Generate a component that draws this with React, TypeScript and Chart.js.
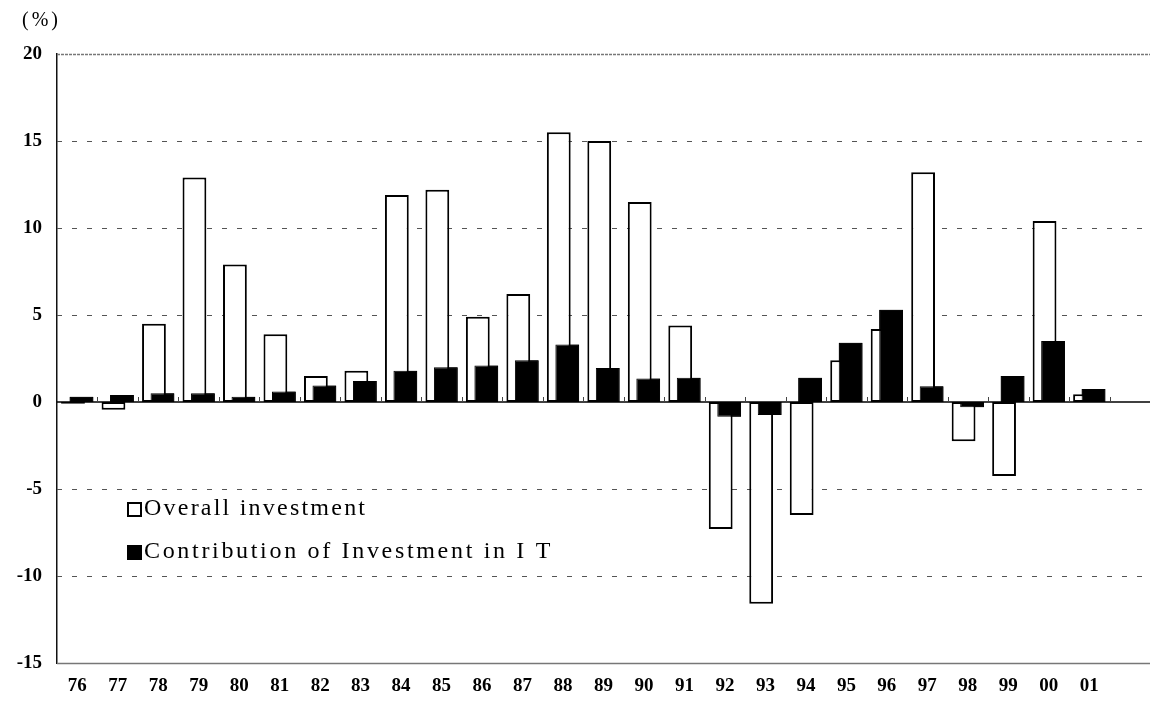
import React, { useEffect, useRef } from 'react';
import { Chart, registerables } from 'chart.js';

Chart.register(...registerables);

// ---- data ----
const YEARS = ['76', '77', '78', '79', '80', '81', '82', '83', '84', '85', '86', '87', '88', '89', '90', '91', '92', '93', '94', '95', '96', '97', '98', '99', '00', '01', ''];
const OVERALL_INVESTMENT = [-0.1, -0.45, 4.5, 12.9, 7.9, 3.9, 1.5, 1.8, 11.9, 12.2, 4.9, 6.2, 15.5, 15.0, 11.5, 4.4, -7.3, -11.6, -6.5, 2.4, 4.2, 13.2, -2.25, -4.25, 10.4, 0.45];
const IT_CONTRIBUTION = [0.3, 0.4, 0.5, 0.5, 0.3, 0.6, 0.95, 1.2, 1.8, 2.0, 2.1, 2.4, 3.3, 1.95, 1.35, 1.4, -0.85, -0.75, 1.4, 3.4, 5.3, 0.9, -0.3, 1.5, 3.5, 0.75];
const SERIES_NAMES = ['Overall investment', 'Contribution of Investment in I T'];
const Y_MIN = -15;
const Y_MAX = 20;
const Y_STEP = 5;
const UNIT_LABEL = '(%)';

const FONT_FAMILY = '"Liberation Serif", "Times New Roman", serif';

const customPlugin = {
  id: 'customDecor',
  beforeDatasetsDraw(chart: any) {
    const { ctx, chartArea } = chart;
    const ys = chart.scales.y;
    ctx.save();
    ys.ticks.forEach((t: any) => {
      if (t.value === 0) return;
      const py = Math.round(ys.getPixelForValue(t.value)) + 0.5;
      ctx.beginPath();
      if (t.value === ys.max) {
        ctx.setLineDash([3, 1]);
        ctx.strokeStyle = '#777';
        ctx.lineWidth = 1.5;
      } else if (t.value === ys.min) {
        ctx.setLineDash([]);
        ctx.strokeStyle = '#777';
        ctx.lineWidth = 1.5;
      } else {
        ctx.setLineDash([5, 10]);
        ctx.strokeStyle = '#555';
        ctx.lineWidth = 1;
      }
      ctx.moveTo(chartArea.left, py);
      ctx.lineTo(chartArea.right, py);
      ctx.stroke();
    });
    ctx.restore();
  },
  afterDatasetsDraw(chart: any) {
    const { ctx, chartArea } = chart;
    // draw the IT contribution bars over the overall bars
    const meta = chart.getDatasetMeta(1);
    ctx.save();
    meta.controller.draw();
    ctx.restore();

    const ys = chart.scales.y;
    const xs = chart.scales.x;
    const y0 = ys.getPixelForValue(0);
    ctx.save();
    ctx.setLineDash([]);
    ctx.strokeStyle = '#000';
    ctx.lineWidth = 1.5;
    ctx.beginPath();
    ctx.moveTo(chartArea.left, y0);
    ctx.lineTo(chartArea.right, y0);
    ctx.stroke();
    // small tick marks at category boundaries
    const half = (xs.getPixelForValue(1) - xs.getPixelForValue(0)) / 2;
    ctx.strokeStyle = '#444';
    ctx.lineWidth = 1;
    for (let i = 0; i < YEARS.length; i++) {
      const px = Math.round(xs.getPixelForValue(i) + half) + 0.5;
      ctx.beginPath();
      ctx.moveTo(px, y0);
      ctx.lineTo(px, y0 - 5);
      ctx.stroke();
    }
    ctx.restore();
  },
  afterDraw(chart: any) {
    const { ctx, chartArea } = chart;
    ctx.save();
    // unit label
    ctx.fillStyle = '#000';
    ctx.font = `20px ${FONT_FAMILY}`;
    ctx.textBaseline = 'middle';
    ctx.textAlign = 'left';
    (ctx as any).letterSpacing = '3px';
    ctx.fillText(UNIT_LABEL, 22, 21);
    (ctx as any).letterSpacing = '0px';

    // legend inside plot
    const pitch = 12.4;
    const lx = chartArea.left + 71;
    const rows = [
      { y: 515, fill: '#fff' },
      { y: 558, fill: '#000' },
    ];
    ctx.font = `24px ${FONT_FAMILY}`;
    ctx.textBaseline = 'alphabetic';
    chart.data.datasets.forEach((ds: any, i: number) => {
      const r = rows[i];
      ctx.fillStyle = r.fill;
      ctx.fillRect(lx, r.y - 12, 13, 13);
      ctx.strokeStyle = '#000';
      ctx.lineWidth = 2;
      ctx.strokeRect(lx, r.y - 12, 13, 13);
      const label = ds.label as string;
      (ctx as any).letterSpacing = '0px';
      const w = ctx.measureText(label).width;
      const spacing = (label.length * pitch - w) / label.length;
      (ctx as any).letterSpacing = `${spacing.toFixed(2)}px`;
      ctx.fillStyle = '#000';
      ctx.fillText(label, lx + 16, r.y);
      (ctx as any).letterSpacing = '0px';
    });
    ctx.restore();
  },
};

export default function App() {
  const canvasRef = useRef<HTMLCanvasElement | null>(null);

  useEffect(() => {
    if (!canvasRef.current) return;
    const chart = new Chart(canvasRef.current, {
      type: 'bar',
      data: {
        labels: YEARS,
        datasets: [
          {
            label: SERIES_NAMES[0],
            data: OVERALL_INVESTMENT,
            backgroundColor: '#fff',
            borderColor: '#000',
            borderWidth: 2,
            borderSkipped: false,
            categoryPercentage: 0.42,
            barPercentage: 2.8,
          },
          {
            label: SERIES_NAMES[1],
            data: IT_CONTRIBUTION,
            backgroundColor: '#000',
            borderColor: '#000',
            borderWidth: 1,
            borderSkipped: false,
            categoryPercentage: 0.42,
            barPercentage: 2.8,
          },
        ],
      },
      options: {
        responsive: false,
        devicePixelRatio: 1,
        animation: false,
        layout: { padding: { top: 54, left: 0, right: 0, bottom: 0 } },
        plugins: {
          legend: { display: false },
          tooltip: { enabled: false },
        },
        scales: {
          x: {
            grid: { display: false, drawTicks: false },
            border: { display: false },
            ticks: {
              color: '#000',
              font: { family: FONT_FAMILY, size: 19, weight: 'bold' },
              padding: 12,
              autoSkip: false,
              maxRotation: 0,
            },
            afterFit: (scale: any) => {
              scale.height = 41;
            },
          },
          y: {
            min: Y_MIN,
            max: Y_MAX,
            grid: { display: false, drawTicks: false },
            border: { display: true, color: '#111', width: 1.5 },
            ticks: {
              stepSize: Y_STEP,
              color: '#000',
              font: { family: FONT_FAMILY, size: 19, weight: 'bold' },
              padding: 15,
            },
            afterFit: (scale: any) => {
              scale.width = 57;
            },
          },
        },
      },
      plugins: [customPlugin],
    });
    return () => chart.destroy();
  }, []);

  return (
    <div style={{ position: 'fixed', left: 0, top: 0, width: 1150, height: 704, background: '#fff' }}>
      <canvas ref={canvasRef} width={1150} height={704} style={{ display: 'block' }} />
    </div>
  );
}
